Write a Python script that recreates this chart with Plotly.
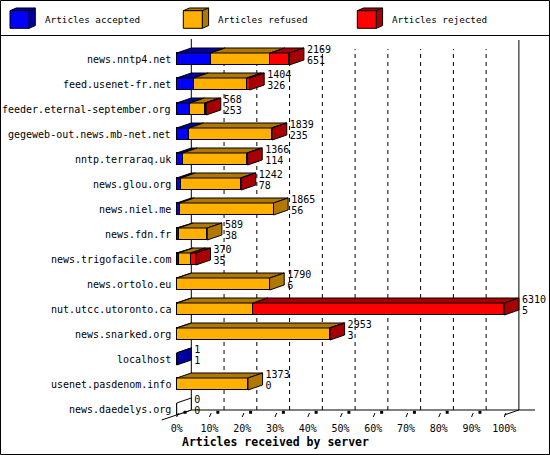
import plotly.graph_objects as go

servers = ['news.nntp4.net', 'feed.usenet-fr.net', 'feeder.eternal-september.org',
           'gegeweb-out.news.mb-net.net', 'nntp.terraraq.uk', 'news.glou.org',
           'news.niel.me', 'news.fdn.fr', 'news.trigofacile.com', 'news.ortolo.eu',
           'nut.utcc.utoronto.ca', 'news.snarked.org', 'localhost',
           'usenet.pasdenom.info', 'news.daedelys.org']
totals = [2169, 1404, 568, 1839, 1366, 1242, 1865, 589, 370, 1790, 6310, 2953, 1, 1373, 0]
accepted = [651, 326, 253, 235, 114, 78, 56, 38, 35, 6, 5, 3, 1, 0, 0]
refused = [1150, 1022, 290, 1594, 1237, 1154, 1809, 551, 235, 1784, 1471, 2942, 0, 1373, 0]
rejected = [368, 56, 25, 10, 15, 10, 0, 0, 100, 0, 4834, 8, 0, 0, 0]

series_names = ['Articles accepted', 'Articles refused', 'Articles rejected']
front_colors = ['#0000FF', '#FFB000', '#FF0000']
dark_colors = ['#0000A0', '#B07800', '#A80000']
x_ticks = list(range(0, 101, 10))

FONT = 'DejaVu Sans Mono'
W, H = 550, 455
L, R, T, B = 160, 5, 36, 34
PW, PH = W - L - R, H - T - B

# pixel geometry of the reference
X0PX, PXPCT = 176.7, 3.276          # front 0% position and px per percent
ROW0PX, ROWPX = 409.0, 25.0         # y px of the last row and row spacing
xmin = (L - X0PX) / PXPCT
xmax = (W - R - X0PX) / PXPCT
ymin = (ROW0PX - (H - B)) / ROWPX
ymax = ymin + PH / ROWPX

DX = 14.6 / PXPCT      # depth in x (percent)
DY = 5 / ROWPX         # depth in y (rows)
BW = 12 / ROWPX        # bar thickness


def ypx(p):
    return (ROW0PX - p) / ROWPX


def paper(xp, yp):
    return (xp - L) / PW, (H - B - yp) / PH


n = len(servers)
rows = list(range(n - 1, -1, -1))
top_max = max(totals)
pct = lambda v: v / top_max * 100
segs = [[pct(v) for v in s] for s in (accepted, refused, rejected)]

fig = go.Figure()

# front faces
for k in range(3):
    fig.add_trace(go.Bar(
        y=rows, x=segs[k], orientation='h', width=BW,
        marker=dict(color=front_colors[k], line=dict(color='black', width=1)),
        name=series_names[k], showlegend=False, hoverinfo='skip'))

# top faces, grouped by colour
for k in range(3):
    xs, ys = [], []
    for i in range(n):
        a = sum(segs[j][i] for j in range(k))
        b = a + segs[k][i]
        if segs[k][i] <= 0:
            continue
        yt = rows[i] + BW / 2
        xs += [a, a + DX, b + DX, b, a, None]
        ys += [yt, yt + DY, yt + DY, yt, yt, None]
    fig.add_trace(go.Scatter(x=xs, y=ys, mode='lines', fill='toself',
                             fillcolor=dark_colors[k], line=dict(color='black', width=1),
                             showlegend=False, hoverinfo='skip'))

# side faces at the end of each bar
side_groups = {}
for i in range(n):
    last = None
    for k in range(3):
        if segs[k][i] > 0:
            last = k
    col = dark_colors[last] if last is not None else 'white'
    e = pct(totals[i])
    yt, yb = rows[i] + BW / 2, rows[i] - BW / 2
    g = side_groups.setdefault(col, ([], []))
    g[0].extend([e, e, e + DX, e + DX, e, None])
    g[1].extend([yb, yt, yt + DY, yb + DY, yb, None])
for col, (xs, ys) in side_groups.items():
    fig.add_trace(go.Scatter(x=xs, y=ys, mode='lines', fill='toself', fillcolor=col,
                             line=dict(color='black', width=1),
                             showlegend=False, hoverinfo='skip'))

# value labels: total above, accepted below
ends = [pct(t) + DX + 3 / PXPCT for t in totals]
fig.add_trace(go.Scatter(x=ends, y=[r + 0.36 for r in rows], mode='text',
                         text=[str(t) for t in totals], textposition='middle right',
                         textfont=dict(family=FONT, size=10, color='black'),
                         cliponaxis=False, showlegend=False, hoverinfo='skip'))
fig.add_trace(go.Scatter(x=ends, y=[r - 0.1 for r in rows], mode='text',
                         text=[str(a) for a in accepted], textposition='middle right',
                         textfont=dict(family=FONT, size=10, color='black'),
                         cliponaxis=False, showlegend=False, hoverinfo='skip'))

# little 3d ticks along the front edge
tx, ty = [], []
for t in x_ticks:
    tx += [t, t + 0.52, None]
    ty += [ypx(417), ypx(413), None]
fig.add_trace(go.Scatter(x=tx, y=ty, mode='lines', line=dict(color='black', width=1),
                         showlegend=False, hoverinfo='skip'))
fig.add_trace(go.Scatter(x=[t + 2.56 for t in x_ticks[:-1]], y=[ypx(412.3)] * (len(x_ticks) - 1),
                         mode='markers', marker=dict(symbol='square', size=3, color='black'),
                         showlegend=False, hoverinfo='skip'))

# back wall, grid and floor
shapes = []
yfloor = ypx(410)
for t in x_ticks[1:-1]:
    shapes.append(dict(type='line', xref='x', yref='y', x0=t + DX, x1=t + DX,
                       y0=yfloor, y1=ypx(49), layer='below',
                       line=dict(color='black', width=1, dash='4px,4px')))
shapes.append(dict(type='line', xref='x', yref='y', x0=DX, x1=DX, y0=yfloor, y1=ypx(39),
                   layer='below', line=dict(color='black', width=1)))
shapes.append(dict(type='line', xref='x', yref='y', x0=100 + DX, x1=100 + DX, y0=yfloor,
                   y1=ypx(40), layer='below', line=dict(color='black', width=1)))
shapes.append(dict(type='line', xref='x', yref='y', x0=DX, x1=(535 - X0PX) / PXPCT,
                   y0=yfloor, y1=yfloor, layer='below', line=dict(color='black', width=1)))
shapes.append(dict(type='line', xref='x', yref='y', x0=(161.7 - X0PX) / PXPCT, x1=DX,
                   y0=ypx(420), y1=yfloor, layer='below', line=dict(color='black', width=1)))
shapes.append(dict(type='line', xref='x', yref='y', x0=100, x1=100 + DX,
                   y0=ypx(415), y1=yfloor, layer='below', line=dict(color='black', width=1)))

# frame and legend separator
bx0, by0 = paper(0.5, 454.5)
bx1, by1 = paper(549.5, 0.5)
shapes.append(dict(type='rect', xref='paper', yref='paper', x0=bx0, y0=by0, x1=bx1, y1=by1,
                   line=dict(color='black', width=1)))
sx0, sy = paper(0, 35.5)
sx1, _ = paper(550, 35.5)
shapes.append(dict(type='line', xref='paper', yref='paper', x0=sx0, x1=sx1, y0=sy, y1=sy,
                   line=dict(color='black', width=1)))

# legend cubes
annotations = []
for k, lx in enumerate([10, 183.3, 357.3]):
    fw, ftop, fbot, ddx, ddy = 19, 10.7, 28.3, 6.3, 2.7
    def path(pts):
        return 'M ' + ' L '.join('%.5f %.5f' % paper(a, b) for a, b in pts) + ' Z'
    shapes.append(dict(type='path', xref='paper', yref='paper', fillcolor=dark_colors[k],
                       line=dict(color='black', width=1),
                       path=path([(lx, ftop), (lx + ddx, ftop - ddy), (lx + fw + ddx, ftop - ddy),
                                  (lx + fw + ddx, fbot - ddy), (lx + fw, fbot), (lx + fw, ftop)])))
    fx0, fy0 = paper(lx, fbot)
    fx1, fy1 = paper(lx + fw, ftop)
    shapes.append(dict(type='rect', xref='paper', yref='paper', x0=fx0, y0=fy0, x1=fx1, y1=fy1,
                       fillcolor=front_colors[k], line=dict(color='black', width=1)))
    shapes.append(dict(type='line', xref='paper', yref='paper',
                       x0=paper(lx + fw, ftop)[0], y0=paper(lx + fw, ftop)[1],
                       x1=paper(lx + fw + ddx, ftop - ddy)[0], y1=paper(lx + fw + ddx, ftop - ddy)[1],
                       line=dict(color='black', width=1)))
    ax, ay = paper(lx + 32.7, 20)
    annotations.append(dict(xref='paper', yref='paper', x=ax, y=ay, xanchor='left',
                            yanchor='middle', showarrow=False, text=series_names[k],
                            font=dict(family=FONT, size=9.3, color='black')))

# server names
for i in range(n):
    annotations.append(dict(xref='x', yref='y', x=0, y=rows[i], xanchor='right',
                            yanchor='middle', xshift=-4, showarrow=False, text=servers[i],
                            font=dict(family=FONT, size=10, color='black')))

tx_, ty_ = paper(180, 441.7)
annotations.append(dict(xref='paper', yref='paper', x=tx_, y=ty_, xanchor='left',
                        yanchor='middle', showarrow=False,
                        text='<b>Articles received by server</b>',
                        font=dict(family=FONT, size=11.5, color='black')))

fig.update_layout(
    width=W, height=H, margin=dict(l=L, r=R, t=T, b=B),
    paper_bgcolor='white', plot_bgcolor='white',
    barmode='stack', bargap=0, showlegend=False,
    font=dict(family=FONT, size=10, color='black'),
    xaxis=dict(range=[xmin, xmax], tickvals=x_ticks, ticktext=['%d%%' % t for t in x_ticks],
               showgrid=False, zeroline=False, showline=False, ticks='',
               tickfont=dict(family=FONT, size=10, color='black')),
    yaxis=dict(range=[ymin, ymax], visible=False),
    shapes=shapes, annotations=annotations,
)

# the browser's default body margin would push the chart 8px down and right
fig.write_html("out.html", config={'displayModeBar': False},
               post_script="document.body.style.margin='0';document.body.style.overflow='hidden';")
